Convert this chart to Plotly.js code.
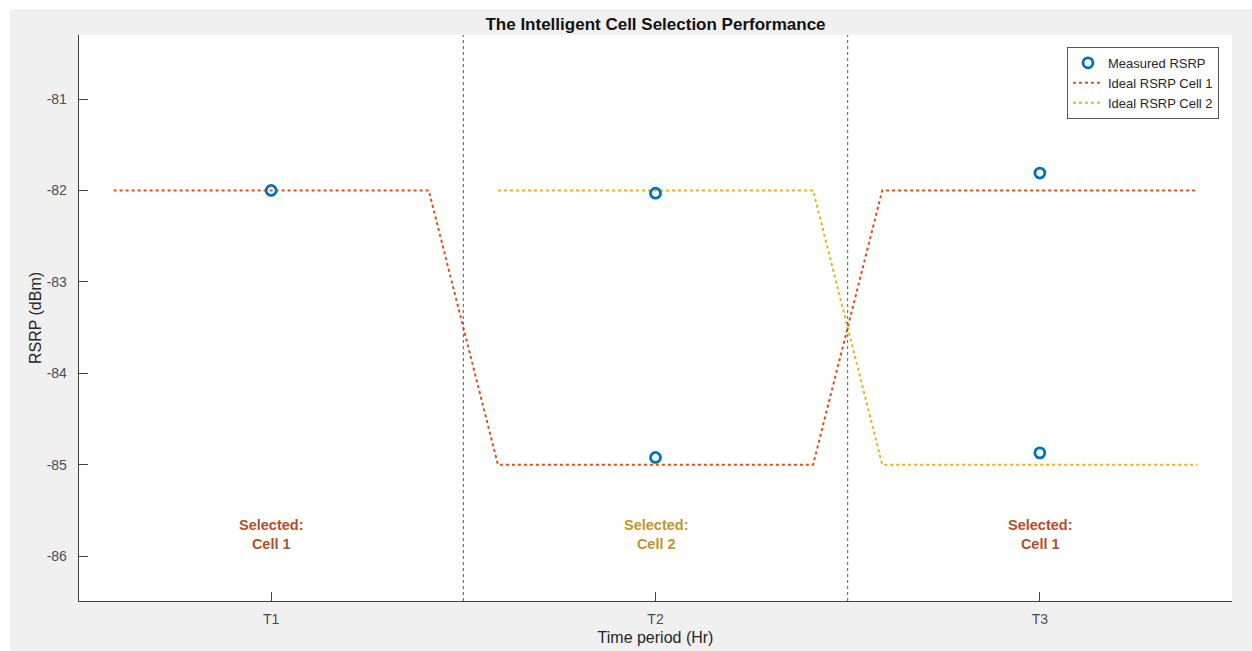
<!DOCTYPE html>
<html>
<head>
<meta charset="utf-8">
<script src="https://cdn.plot.ly/plotly-3.0.1.min.js"></script>
<style>
  html, body { margin: 0; padding: 0; background: #ffffff; width: 1252px; height: 651px; overflow: hidden; }
  #chart { position: absolute; left: 10px; top: 9px; width: 1242px; height: 642px; }
</style>
</head>
<body>
<div id="chart"></div>
<script>
// ---- data ----
const periodPositions = [1, 2, 3];
const periodLabels = ['T1', 'T2', 'T3'];
const measuredX = [1, 2, 2, 3, 3];
const measuredY = [-82.0, -82.03, -84.92, -81.81, -84.87];
const cell1X = [0.59, 1.41, 1.59, 2.41, 2.59, 3.41];
const cell1Y = [-82, -82, -85, -85, -82, -82];
const cell2X = [1.59, 2.41, 2.59, 3.41];
const cell2Y = [-82, -82, -85, -85];
const boundaries = [1.5, 2.5];
const selectedCells = ['Cell 1', 'Cell 2', 'Cell 1'];
const selectedLabelY = -85.76;
const yTicks = [-86, -85, -84, -83, -82, -81];

const cell1Color = '#D95319';
const cell2Color = '#EDB120';
const textColors = {'Cell 1': '#B1502A', 'Cell 2': '#C0952C'};

const traces = [
  {
    x: cell1X, y: cell1Y, type: 'scatter', mode: 'lines', name: 'Ideal RSRP Cell 1',
    line: {color: cell1Color, width: 2, dash: 'dot'}, legendrank: 2
  },
  {
    x: cell2X, y: cell2Y, type: 'scatter', mode: 'lines', name: 'Ideal RSRP Cell 2',
    line: {color: cell2Color, width: 2, dash: 'dot'}, legendrank: 3
  },
  {
    x: measuredX, y: measuredY, type: 'scatter', mode: 'markers', name: 'Measured RSRP',
    marker: {symbol: 'circle-open', size: 10, color: '#0072BD', line: {width: 2.8, color: '#0072BD'}},
    legendrank: 1
  }
];

const shapes = boundaries.map(b => ({
  type: 'line', xref: 'x', yref: 'paper', x0: b, x1: b, y0: 0, y1: 1,
  line: {color: '#5a5a5a', width: 1, dash: 'dot'}
}));

const annotations = periodPositions.map((p, i) => ({
  x: p, y: selectedLabelY, xref: 'x', yref: 'y',
  text: '<b>Selected:</b><br><b>' + selectedCells[i] + '</b>',
  showarrow: false, align: 'center',
  font: {family: 'Liberation Sans, Arial, sans-serif', size: 14.5, color: textColors[selectedCells[i]]}
}));

const layout = {
  width: 1242, height: 642,
  paper_bgcolor: '#f0f0f0', plot_bgcolor: '#ffffff',
  margin: {l: 69, r: 20, t: 26, b: 50},
  font: {family: 'Liberation Sans, Arial, sans-serif', color: '#404040', size: 14},
  title: {
    text: '<b>The Intelligent Cell Selection Performance</b>',
    xref: 'paper', x: 0.5, xanchor: 'center', y: 0.986, yanchor: 'top',
    font: {family: 'Liberation Sans, Arial, sans-serif', size: 17, color: '#111111'}
  },
  xaxis: {
    range: [0.5, 3.5], tickvals: periodPositions, ticktext: periodLabels,
    showgrid: false, zeroline: false, showline: true, linecolor: '#404040', linewidth: 1.3,
    ticks: 'inside', ticklen: 9, tickcolor: '#404040', tickwidth: 1,
    ticklabelstandoff: 5,
    tickfont: {size: 14, color: '#4d4d4d'},
    title: {text: 'Time period (Hr)', font: {size: 16, color: '#262626'}, standoff: 5},
    mirror: false
  },
  yaxis: {
    range: [-86.49, -80.30], tickvals: yTicks, ticktext: yTicks.map(String),
    showgrid: false, zeroline: false, showline: true, linecolor: '#404040', linewidth: 1.3,
    ticks: 'inside', ticklen: 9, tickcolor: '#404040', tickwidth: 1,
    ticklabelstandoff: 8,
    tickfont: {size: 14, color: '#4d4d4d'},
    title: {text: 'RSRP (dBm)', font: {size: 16, color: '#262626'}, standoff: 1},
    mirror: false
  },
  showlegend: true,
  legend: {
    x: 0.9887, xanchor: 'right', y: 0.979, yanchor: 'top',
    bgcolor: '#ffffff', bordercolor: '#555555', borderwidth: 1,
    font: {size: 13, color: '#262626'},
    tracegroupgap: 0
  },
  shapes: shapes,
  annotations: annotations
};

Plotly.newPlot('chart', traces, layout, {displayModeBar: false, staticPlot: true});
</script>
</body>
</html>
